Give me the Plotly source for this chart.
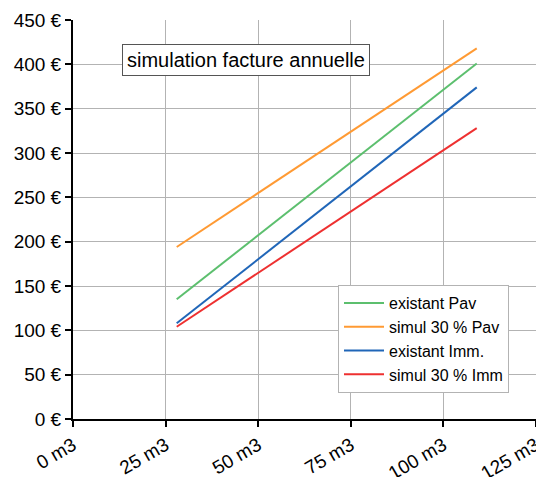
import plotly.graph_objects as go

# annual consumption (m3) at each end of the simulated range
volumes = [28, 109]

# annual bill (€) per tariff
existant_pav = [135, 401]
simul_pav = [194, 418]
existant_imm = [108, 374]
simul_imm = [104, 328]

series = [
    ("existant Pav", existant_pav, "#5cbf6e"),
    ("simul 30 % Pav", simul_pav, "#ff9a33"),
    ("existant Imm.", existant_imm, "#2066b8"),
    ("simul 30 % Imm", simul_imm, "#ee3030"),
]

x_ticks = [0, 25, 50, 75, 100, 125]
y_ticks = [0, 50, 100, 150, 200, 250, 300, 350, 400, 450]

fig = go.Figure()
for name, values, color in series:
    fig.add_trace(go.Scatter(
        x=volumes, y=values, name=name, mode="lines",
        line=dict(color=color, width=2),
    ))

family = "Liberation Sans, Arial, sans-serif"
tick_font = dict(family=family, size=19, color="#000000")

fig.update_layout(
    width=536, height=477,
    margin=dict(l=73, r=0, t=20, b=58),
    paper_bgcolor="white", plot_bgcolor="white",
    font=dict(family=family, size=16, color="#000000"),
    showlegend=True,
    legend=dict(
        x=(338 - 73) / 463, y=(419 - 285) / 399, xanchor="left", yanchor="top",
        bgcolor="white", bordercolor="#b3b3b3", borderwidth=1,
        font=dict(family=family, size=16, color="#000000"),
        tracegroupgap=0, itemwidth=40,
    ),
    xaxis=dict(
        range=[0, 125], tickvals=x_ticks,
        ticktext=[f"{v} m3" for v in x_ticks],
        tickangle=-30, tickfont=tick_font,
        ticklabeloverflow="allow", automargin=False,
        showgrid=True, gridcolor="#b3b3b3", gridwidth=1,
        showline=True, linecolor="#000000", linewidth=2,
        ticks="outside", ticklen=6, tickwidth=2, tickcolor="#000000",
        zeroline=False,
    ),
    yaxis=dict(
        range=[0, 450], tickvals=y_ticks,
        ticktext=[f"{v} €" for v in y_ticks],
        tickfont=tick_font, automargin=False,
        showgrid=True, gridcolor="#b3b3b3", gridwidth=1,
        showline=True, linecolor="#000000", linewidth=2,
        ticks="outside", ticklen=6, tickwidth=2, tickcolor="#000000",
        zeroline=False,
    ),
    annotations=[dict(
        text="simulation facture annuelle",
        x=(246 - 73) / 463, y=(419 - 60) / 399, xref="paper", yref="paper",
        xanchor="center", yanchor="middle", showarrow=False,
        font=dict(family=family, size=20, color="#000000"),
        bgcolor="white", bordercolor="#555555", borderwidth=1, borderpad=4,
    )],
)

fig.write_html("out.html")
